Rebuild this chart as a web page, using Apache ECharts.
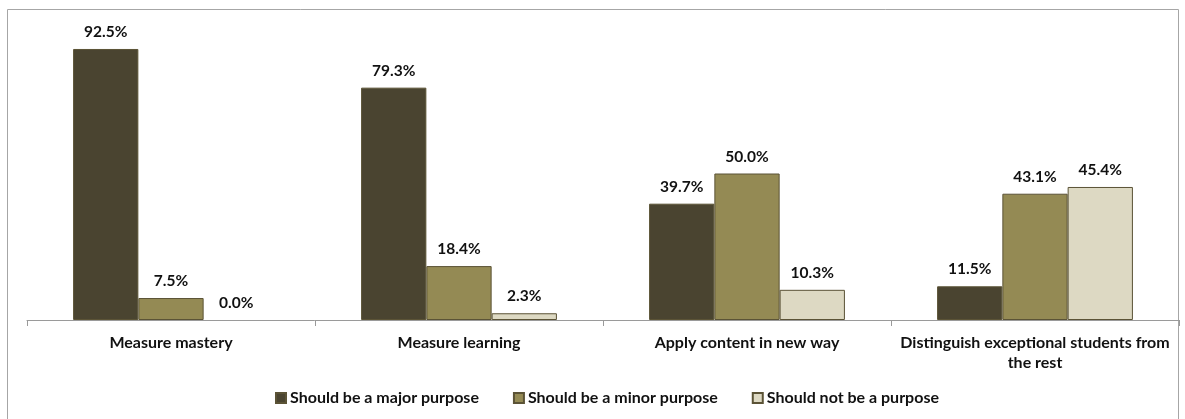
<!DOCTYPE html>
<html>
<head>
<meta charset="utf-8">
<script src="https://cdn.jsdelivr.net/npm/echarts@6/dist/echarts.min.js"></script>
<style>
  html, body { margin: 0; padding: 0; background: #fff; }
  #chart { width: 1185px; height: 419px; }
</style>
</head>
<body>
<div id="chart"></div>
<script>
// Survey: what purposes assessments should serve
const categories = [
  'Measure mastery',
  'Measure learning',
  'Apply content in new way',
  'Distinguish exceptional students from\nthe rest'
];
const seriesNames = [
  'Should be a major purpose',
  'Should be a minor purpose',
  'Should not be a purpose'
];
const majorPurpose = [92.5, 79.3, 39.7, 11.5];
const minorPurpose = [7.5, 18.4, 50.0, 43.1];
const notPurpose = [0.0, 2.3, 10.3, 45.4];

const fills = ['#4a4430', '#948a54', '#ddd9c3'];
const edge = '#5b5336';
const fontFamily = 'Lato, "Open Sans", sans-serif';

const chart = echarts.init(document.getElementById('chart'));

function barSeries(name, data, i) {
  return {
    name: name,
    type: 'bar',
    // zero-height bars get no outline so they don't show as a line on the axis
    data: data.map(v => v === 0 ? { value: v, itemStyle: { borderWidth: 0 } } : v),
    barGap: '0%',
    barCategoryGap: '32%',
    itemStyle: { color: fills[i], borderColor: edge, borderWidth: 1 },
    label: {
      show: true,
      position: 'top',
      distance: 9,
      formatter: p => p.value.toFixed(1) + '%',
      color: '#111',
      fontWeight: 'bold',
      fontSize: 15.5,
      fontFamily: fontFamily
    },
    emphasis: { disabled: true }
  };
}

chart.setOption({
  animation: false,
  graphic: [{
    type: 'rect',
    shape: { x: 7.5, y: 9.5, width: 1171, height: 420 },
    style: { fill: 'none', stroke: '#a6a6a6', lineWidth: 1 },
    silent: true
  }],
  grid: { left: 27, right: 6, top: 27, bottom: 99 },
  legend: {
    bottom: 8,
    left: 270,
    itemWidth: 10,
    itemHeight: 10,
    itemGap: 34,
    icon: 'rect',
    data: seriesNames,
    textStyle: { color: '#111', fontWeight: 'bold', fontSize: 16, fontFamily: fontFamily, padding: [0, 0, 0, -1] }
  },
  xAxis: {
    type: 'category',
    data: categories,
    axisLine: { lineStyle: { color: '#9a9a9a', width: 1 } },
    axisTick: { show: true, length: 6, lineStyle: { color: '#9a9a9a' } },
    axisLabel: {
      color: '#111',
      fontWeight: 'bold',
      fontSize: 16,
      fontFamily: fontFamily,
      margin: 13,
      lineHeight: 20,
      interval: 0
    }
  },
  yAxis: {
    type: 'value',
    min: 0,
    max: 100,
    show: false,
    splitLine: { show: false }
  },
  series: [
    barSeries(seriesNames[0], majorPurpose, 0),
    barSeries(seriesNames[1], minorPurpose, 1),
    barSeries(seriesNames[2], notPurpose, 2)
  ]
});
</script>
</body>
</html>
